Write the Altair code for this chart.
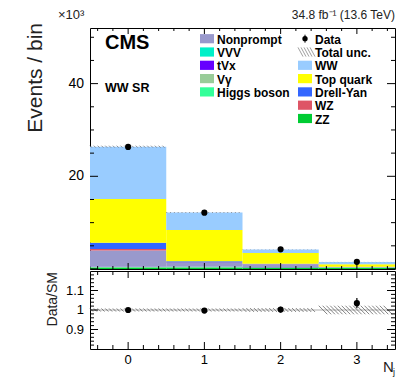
import altair as alt
import pandas as pd
import numpy as np

# ---------------- data (values in units of 10^3 events) ----------------
bins = [0, 1, 2, 3]
procs = ["ZZ", "Higgs boson", "Vγ", "tVx", "VVV", "Nonprompt", "WZ", "Drell-Yan", "Top quark", "WW"]
colors = ["#00cc33", "#33ff99", "#99cc99", "#6600ff", "#00f0c8", "#9999cc", "#de5566", "#3366ff", "#ffff00", "#99ccff"]

zz = [0.35, 0.35, 0.30, 0.25]
higgs = [0.05, 0.03, 0.02, 0.01]
vgamma = [0.05, 0.04, 0.02, 0.01]
tvx = [0.02, 0.03, 0.03, 0.02]
vvv = [0.01, 0.01, 0.01, 0.01]
nonprompt = [3.50, 0.85, 0.60, 0.15]
wz = [0.32, 0.10, 0.05, 0.03]
dy = [1.35, 0.27, 0.10, 0.02]
top = [9.45, 6.72, 2.30, 0.55]
ww = [11.30, 3.80, 0.80, 0.45]

data_vals = [26.35, 12.15, 4.25, 1.55]
data_err = [0.16, 0.11, 0.065, 0.04]
ratio_vals = [1.000, 0.997, 1.002, 1.035]
ratio_err = [0.006, 0.009, 0.015, 0.026]
unc_rel = [0.008, 0.008, 0.010, 0.022]

legend_col1 = ["Nonprompt", "VVV", "tVx", "Vγ", "Higgs boson"]
legend_col2 = ["Data", "Total unc.", "WW", "Top quark", "Drell-Yan", "WZ", "ZZ"]

main_ylabels = [20, 40]
ratio_ylabels = [0.9, 1.0, 1.1]
ratio_ylabel_text = ["0.9", "1", "1.1"]
main_yticks_major = [0, 20, 40]
main_yticks_minor = [5, 10, 15, 25, 30, 35, 45, 50]
xticks_major = [0, 1, 2, 3]
xticks_minor = [round(v, 1) for v in np.arange(-0.4, 3.5, 0.2) if abs(v - round(v)) > 1e-6]
ratio_yticks_major = [0.9, 1.0, 1.1]
ratio_yticks_minor = [round(v, 2) for v in np.arange(0.82, 1.19, 0.02)
                      if min(abs(v - 0.9), abs(v - 1.0), abs(v - 1.1)) > 1e-6]

# ---------------- layout constants ----------------
W = 305
H_MAIN = 241
H_RATIO = 78
XDOM = [-0.5, 3.5]
YDOM_MAIN = [0, 52]
YDOM_RATIO = [0.8, 1.2]
FONT = "Liberation Sans"

xscale = alt.Scale(domain=XDOM, nice=False, zero=False)
yscale_main = alt.Scale(domain=YDOM_MAIN, nice=False, zero=False)
yscale_ratio = alt.Scale(domain=YDOM_RATIO, nice=False, zero=False)

# ---------------- tables ----------------
arrays = [zz, higgs, vgamma, tvx, vvv, nonprompt, wz, dy, top, ww]
rows = []
totals = []
for i, b in enumerate(bins):
    cum = 0.0
    for p, arr in zip(procs, arrays):
        rows.append(dict(bin=b, xlo=b - 0.5, xhi=b + 0.5, proc=p, y0=cum, y1=cum + arr[i]))
        cum += arr[i]
    totals.append(cum)
stack_df = pd.DataFrame(rows)

data_df = pd.DataFrame(dict(bin=bins, val=data_vals,
                            lo=[v - e for v, e in zip(data_vals, data_err)],
                            hi=[v + e for v, e in zip(data_vals, data_err)]))
ratio_df = pd.DataFrame(dict(bin=bins, val=ratio_vals,
                             lo=[v - e for v, e in zip(ratio_vals, ratio_err)],
                             hi=[v + e for v, e in zip(ratio_vals, ratio_err)]))


def hatch_df(centers, lows, highs, ydom, h, step=0.05):
    px_x = W / (XDOM[1] - XDOM[0])
    px_y = h / (ydom[1] - ydom[0])
    segs = []
    for c, lo, hi in zip(centers, lows, highs):
        dx = (hi - lo) * px_y / px_x
        xs = c - 0.5
        while xs + dx <= c + 0.5 + 1e-9:
            segs.append(dict(x=xs, x2=xs + dx, y=hi, y2=lo))
            xs += step
    return pd.DataFrame(segs)


main_hatch = hatch_df(bins, [t * (1 - u) for t, u in zip(totals, unc_rel)],
                      [t * (1 + u) for t, u in zip(totals, unc_rel)], YDOM_MAIN, H_MAIN)
ratio_hatch = hatch_df(bins, [1 - u for u in unc_rel], [1 + u for u in unc_rel], YDOM_RATIO, H_RATIO)


def yticks(vals, length, yscale):
    df = pd.DataFrame({"v": vals})
    base = alt.Chart(df).mark_rule(color="black", strokeWidth=1)
    left = base.encode(y=alt.Y("v:Q", scale=yscale, axis=None), x=alt.value(0), x2=alt.value(length))
    right = base.encode(y=alt.Y("v:Q", scale=yscale, axis=None), x=alt.value(W - length), x2=alt.value(W))
    return [left, right]


def xticks(vals, length, h):
    df = pd.DataFrame({"v": vals})
    base = alt.Chart(df).mark_rule(color="black", strokeWidth=1)
    bottom = base.encode(x=alt.X("v:Q", scale=xscale, axis=None), y=alt.value(h - length), y2=alt.value(h))
    topt = base.encode(x=alt.X("v:Q", scale=xscale, axis=None), y=alt.value(0), y2=alt.value(length))
    return [bottom, topt]


def ylabels(vals, texts, yscale, size):
    df = pd.DataFrame({"v": vals, "t": texts})
    return alt.Chart(df).mark_text(align="right", baseline="middle", fontSize=size, font=FONT,
                                   color="black").encode(
        y=alt.Y("v:Q", scale=yscale, axis=None), x=alt.value(-6), text="t:N")


def static_text(txt, x, y, size, weight="normal", align="left", baseline="alphabetic", angle=0, color="black"):
    return alt.Chart(pd.DataFrame({"t": [txt]})).mark_text(
        align=align, baseline=baseline, fontSize=size, fontWeight=weight, font=FONT,
        color=color, angle=angle).encode(x=alt.value(x), y=alt.value(y), text="t:N")


# ---------------- main panel ----------------
stack = alt.Chart(stack_df).mark_rect(strokeWidth=0).encode(
    x=alt.X("xlo:Q", scale=xscale, axis=None),
    x2="xhi:Q",
    y=alt.Y("y0:Q", scale=yscale_main, axis=None),
    y2="y1:Q",
    color=alt.Color("proc:N", scale=alt.Scale(domain=procs, range=colors), legend=None),
)

mhatch = alt.Chart(main_hatch).mark_rule(color="#777777", strokeWidth=0.8).encode(
    x=alt.X("x:Q", scale=xscale, axis=None), x2="x2:Q",
    y=alt.Y("y:Q", scale=yscale_main, axis=None), y2="y2:Q")

dpoints = alt.Chart(data_df).mark_circle(size=38, color="black", opacity=1).encode(
    x=alt.X("bin:Q", scale=xscale, axis=None),
    y=alt.Y("val:Q", scale=yscale_main, axis=None))
derr = alt.Chart(data_df).mark_rule(color="black", strokeWidth=1.2).encode(
    x=alt.X("bin:Q", scale=xscale, axis=None),
    y=alt.Y("lo:Q", scale=yscale_main, axis=None), y2="hi:Q")

# legend (layout table)
leg_rows = []
for r, lab in enumerate(legend_col1):
    leg_rows.append(dict(label=lab, col=0, row=r))
for r, lab in enumerate(legend_col2):
    leg_rows.append(dict(label=lab, col=1, row=r))
leg = pd.DataFrame(leg_rows)
leg["sx"] = 110 + leg["col"] * 98
leg["sx2"] = leg["sx"] + 14
leg["tx"] = leg["sx"] + 17
leg["cy"] = 10.7 + leg["row"] * 13.3
leg["sy"] = leg["cy"] - 4.6
leg["sy2"] = leg["cy"] + 4.6
leg_sw = leg[leg["label"].isin(procs)]

leg_rect = alt.Chart(leg_sw).mark_rect().encode(
    x=alt.X("sx:Q", scale=None, axis=None), x2="sx2:Q",
    y=alt.Y("sy:Q", scale=None, axis=None), y2="sy2:Q",
    color=alt.Color("label:N", scale=alt.Scale(domain=procs, range=colors), legend=None))
leg_text = alt.Chart(leg).mark_text(align="left", baseline="middle", fontSize=12,
                                    fontWeight="bold", font=FONT, color="black", dy=1).encode(
    x=alt.X("tx:Q", scale=None, axis=None),
    y=alt.Y("cy:Q", scale=None, axis=None),
    text="label:N")

leg_data = leg[leg["label"] == "Data"].copy()
leg_data["dx"] = leg_data["sx"] + 7
leg_data["ey"] = leg_data["cy"] - 4
leg_data["ey2"] = leg_data["cy"] + 4
leg_dot = alt.Chart(leg_data).mark_circle(size=28, color="black", opacity=1).encode(
    x=alt.X("dx:Q", scale=None, axis=None), y=alt.Y("cy:Q", scale=None, axis=None))
leg_bar = alt.Chart(leg_data).mark_rule(color="black", strokeWidth=1).encode(
    x=alt.X("dx:Q", scale=None, axis=None), y=alt.Y("ey:Q", scale=None, axis=None), y2="ey2:Q")
leg_unc = leg[leg["label"] == "Total unc."]
unc_lines = []
for _, rr in leg_unc.iterrows():
    for k in range(5):
        unc_lines.append(dict(x=rr["sx"] + k * 3, x2=rr["sx"] + k * 3 + 5, y=rr["sy"], y2=rr["sy2"]))
leg_hatch = alt.Chart(pd.DataFrame(unc_lines)).mark_rule(color="#888888", strokeWidth=0.8).encode(
    x=alt.X("x:Q", scale=None, axis=None), x2="x2:Q",
    y=alt.Y("y:Q", scale=None, axis=None), y2="y2:Q")

cms = static_text("CMS", 15, 21, 20, weight="bold")
wwsr = static_text("WW SR", 15, 63.5, 12.5, weight="bold")
lumi = static_text("34.8 fb⁻¹ (13.6 TeV)", W, -9, 12, align="right", color="#222222")
expo = static_text("×10³", -32, -9, 13, color="#222222")
ytitle = static_text("Events / bin", -48, -5, 21, align="right", angle=270, color="#222222")

main_layers = [stack, mhatch, derr, dpoints]
main_layers += yticks(main_yticks_major, 8, yscale_main) + yticks(main_yticks_minor, 4, yscale_main)
main_layers += xticks(xticks_major, 6, H_MAIN) + xticks(xticks_minor, 3, H_MAIN)
main_layers += [ylabels(main_ylabels, [str(v) for v in main_ylabels], yscale_main, 14)]
main_layers += [leg_rect, leg_hatch, leg_bar, leg_dot, leg_text, cms, wwsr, lumi, expo, ytitle]
main = alt.layer(*main_layers).properties(width=W, height=H_MAIN)

# ---------------- ratio panel ----------------
rline_df = pd.DataFrame({"y": [1.0]})
rline = alt.Chart(rline_df).mark_rule(color="#999999", strokeWidth=0.8).encode(
    y=alt.Y("y:Q", scale=yscale_ratio, axis=None))
rhatch = alt.Chart(ratio_hatch).mark_rule(color="#666666", strokeWidth=0.8).encode(
    x=alt.X("x:Q", scale=xscale, axis=None), x2="x2:Q",
    y=alt.Y("y:Q", scale=yscale_ratio, axis=None), y2="y2:Q")
rerr = alt.Chart(ratio_df).mark_rule(color="black", strokeWidth=1.2).encode(
    x=alt.X("bin:Q", scale=xscale, axis=None),
    y=alt.Y("lo:Q", scale=yscale_ratio, axis=None), y2="hi:Q")
rpts = alt.Chart(ratio_df).mark_circle(size=38, color="black", opacity=1).encode(
    x=alt.X("bin:Q", scale=xscale, axis=None),
    y=alt.Y("val:Q", scale=yscale_ratio, axis=None))
xlab_df = pd.DataFrame({"v": bins, "t": [str(b) for b in bins]})
rxlabels = alt.Chart(xlab_df).mark_text(align="center", baseline="middle", fontSize=13, font=FONT,
                                        color="black").encode(
    x=alt.X("v:Q", scale=xscale, axis=None), y=alt.value(H_RATIO + 11), text="t:N")
rytitle = static_text("Data/SM", -33, 1, 14, align="right", angle=270, color="#222222")
nj_n = static_text("N", W - 12, 101, 15, color="#222222")
nj_j = static_text("j", W - 2, 104, 9, color="#222222")

ratio_layers = [rline, rhatch, rerr, rpts]
ratio_layers += yticks(ratio_yticks_major, 8, yscale_ratio) + yticks(ratio_yticks_minor, 4, yscale_ratio)
ratio_layers += xticks(xticks_major, 7, H_RATIO) + xticks(xticks_minor, 4, H_RATIO)
ratio_layers += [ylabels(ratio_ylabels, ratio_ylabel_text, yscale_ratio, 13), rxlabels, rytitle, nj_n, nj_j]
ratio = alt.layer(*ratio_layers).properties(width=W, height=H_RATIO)

chart = alt.vconcat(main, ratio, spacing=0).properties(
    padding={"left": 16, "top": 0, "right": 5, "bottom": 0}
).configure(font=FONT).configure_view(stroke="black", strokeWidth=1)

chart.save("out.html", embed_options={"renderer": "svg", "actions": False})
